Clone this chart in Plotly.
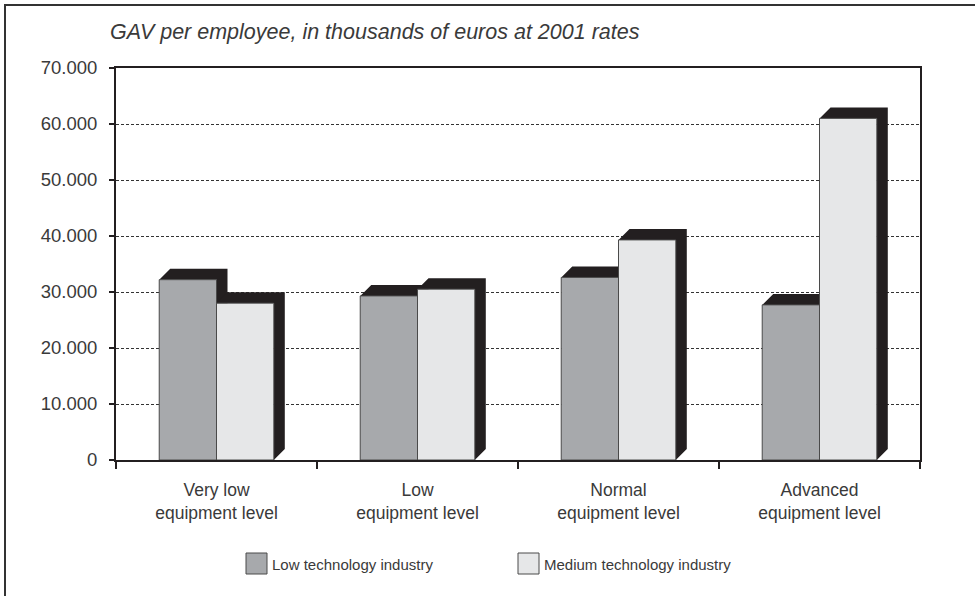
import plotly.graph_objects as go

# Data
categories = ["Very low<br>equipment level", "Low<br>equipment level",
              "Normal<br>equipment level", "Advanced<br>equipment level"]
series_names = ["Low technology industry", "Medium technology industry"]
low_tech = [32200, 29300, 32600, 27700]
medium_tech = [28000, 30500, 39300, 61000]
y_tick_vals = [0, 10000, 20000, 30000, 40000, 50000, 60000, 70000]
y_tick_text = ["0", "10.000", "20.000", "30.000", "40.000", "50.000", "60.000", "70.000"]

# Figure geometry (pixels)
W, H = 975, 596
ML, MR, MT, MB = 116, 55, 68, 136
PW, PH = W - ML - MR, H - MT - MB
X_RANGE = (-0.5, 3.5)
Y_RANGE = (0, 70000)

BAR_W = 0.285
DEPTH_PX = 11
DX = DEPTH_PX / PW * (X_RANGE[1] - X_RANGE[0])
DY = DEPTH_PX / PH * (Y_RANGE[1] - Y_RANGE[0])

LOW_COLOR = "#a7a9ac"
MED_COLOR = "#e6e7e8"
SIDE_COLOR = "#231f20"
TEXT_COLOR = "#3a3a3a"
FONT = "Liberation Sans, Arial, sans-serif"


def px_x(p):
    return (p - ML) / PW


def px_y(p):
    return 1 - (p - MT) / PH


x_pos = list(range(len(categories)))

fig = go.Figure()
fig.add_trace(go.Bar(x=x_pos, y=low_tech, name=series_names[0], width=BAR_W,
                     offset=-BAR_W, marker=dict(color=LOW_COLOR,
                     line=dict(color="#4a4a4a", width=1))))
fig.add_trace(go.Bar(x=x_pos, y=medium_tech, name=series_names[1], width=BAR_W,
                     offset=0, marker=dict(color=MED_COLOR,
                     line=dict(color="#4a4a4a", width=1))))

shapes = []
# Dark top and right faces giving the bars their depth
for offset, values in ((-BAR_W, low_tech), (0, medium_tech)):
    for xi, v in zip(x_pos, values):
        x0 = xi + offset
        x1 = x0 + BAR_W
        path = (f"M {x0},{v} L {x0 + DX},{v + DY} L {x1 + DX},{v + DY} "
                f"L {x1 + DX},{DY} L {x1},0 L {x1},{v} Z")
        shapes.append(dict(type="path", path=path, xref="x", yref="y",
                           fillcolor=SIDE_COLOR, line=dict(width=0),
                           layer="between"))

# Outer frame
shapes.append(dict(type="rect", xref="paper", yref="paper",
                   x0=px_x(5), x1=px_x(990), y0=px_y(610), y1=px_y(5),
                   line=dict(color="#333333", width=2), layer="below"))

# Legend keys
annotations = []
legend_items = [(246, LOW_COLOR, series_names[0]), (518, MED_COLOR, series_names[1])]
for lx, color, name in legend_items:
    shapes.append(dict(type="rect", xref="paper", yref="paper",
                       x0=px_x(lx), x1=px_x(lx + 21), y0=px_y(574), y1=px_y(553),
                       fillcolor=color, line=dict(color="#4a4a4a", width=1)))
    annotations.append(dict(xref="paper", yref="paper", x=px_x(lx + 24), y=px_y(564),
                            text=name, showarrow=False, xanchor="left", yanchor="middle",
                            font=dict(family=FONT, size=15, color=TEXT_COLOR)))

# Title
annotations.append(dict(xref="paper", yref="paper", x=px_x(108), y=px_y(32),
                        text="<i>GAV per employee, in thousands of euros at 2001 rates</i>",
                        showarrow=False, xanchor="left", yanchor="middle",
                        font=dict(family=FONT, size=21.5, color=TEXT_COLOR)))

fig.update_layout(
    width=W, height=H,
    margin=dict(l=ML, r=MR, t=MT, b=MB),
    paper_bgcolor="white", plot_bgcolor="white",
    showlegend=False,
    barmode="overlay",
    shapes=shapes,
    annotations=annotations,
    font=dict(family=FONT, color=TEXT_COLOR),
    xaxis=dict(
        range=list(X_RANGE), tickmode="array", tickvals=x_pos, ticktext=categories,
        ticks="", showgrid=False, zeroline=False,
        showline=True, mirror=True, linecolor=SIDE_COLOR, linewidth=2,
        tickfont=dict(family=FONT, size=17.5, color=TEXT_COLOR),
        ticklabelstandoff=13,
        minor=dict(tickmode="array", tickvals=[-0.5, 0.5, 1.5, 2.5, 3.5],
                   ticks="outside", ticklen=7, tickwidth=2, tickcolor=SIDE_COLOR,
                   showgrid=False),
    ),
    yaxis=dict(
        range=list(Y_RANGE), tickmode="array", tickvals=y_tick_vals, ticktext=y_tick_text,
        ticks="outside", ticklen=5, tickwidth=2, tickcolor=SIDE_COLOR,
        showgrid=True, gridcolor="#333333", gridwidth=1, griddash="3px,2px",
        zeroline=False,
        showline=True, mirror=True, linecolor=SIDE_COLOR, linewidth=2,
        tickfont=dict(family=FONT, size=18.5, color=TEXT_COLOR),
        ticklabelstandoff=8,
    ),
)

fig.write_html("out.html")
